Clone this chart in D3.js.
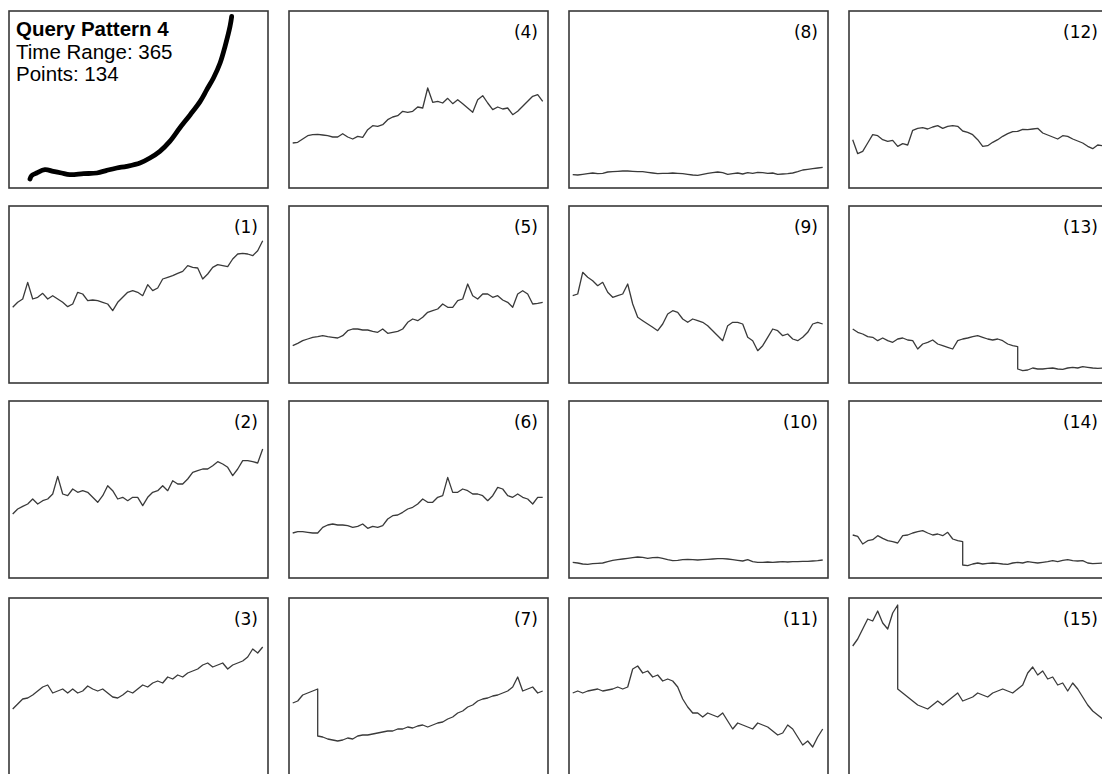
<!DOCTYPE html>
<html><head><meta charset="utf-8">
<script src="https://cdn.jsdelivr.net/npm/d3@7"></script>
<style>html,body{margin:0;padding:0;background:#fff;overflow:hidden}</style>
</head><body><svg id="c" width="1102" height="774"></svg>
<script>
// ---------------- data ----------------
const queryTitle = "Query Pattern 4";
const queryInfo = ["Time Range: 365", "Points: 134"];
const queryDays   = [0, 3, 12, 27, 42, 57, 72, 97, 121, 139, 157, 175, 199, 217, 235, 253, 271, 290, 308, 320, 332, 344, 353, 362, 365];
const queryValues = [27, 37, 45, 55, 50, 45, 40, 43, 45, 53, 60, 65, 75, 90, 110, 140, 180, 220, 260, 295, 330, 375, 425, 485, 515];

const seriesLabels = ["(1)","(2)","(3)","(4)","(5)","(6)","(7)","(8)","(9)","(10)","(11)","(12)","(13)","(14)","(15)"];
// a pair [a, b] marks a vertical jump at that sample
const s1 = [227,242,252,302,252,257,269,252,262,252,242,229,237,272,267,247,249,247,242,237,217,242,257,272,277,272,262,295,277,285,312,317,322,329,335,352,347,345,312,327,347,355,352,349,372,387,389,387,382,397,427];
const s2 = [192,207,215,222,237,222,232,237,252,305,252,247,267,257,262,257,242,227,247,277,262,237,242,232,242,242,217,242,257,262,277,262,292,282,282,297,317,322,327,327,337,349,342,332,307,327,352,352,349,345,387];
const s3 = [198,213,228,231,240,252,264,270,246,252,258,246,258,246,252,267,258,252,258,246,234,231,240,252,246,258,270,264,276,282,276,294,288,300,294,306,312,318,330,336,324,330,336,318,330,336,342,354,378,366,384];
const s4 = [135,137,147,157,160,161,159,157,153,153,163,153,147,155,152,175,187,185,190,205,213,217,230,227,230,243,240,300,257,260,255,269,253,265,253,240,227,265,277,255,235,243,237,240,220,230,245,260,275,280,260];
const s5 = [112,119,127,132,137,139,142,139,137,135,142,157,162,162,159,159,155,152,162,149,152,155,162,182,192,187,197,212,217,222,237,227,227,247,252,297,262,252,267,267,257,262,249,242,227,267,277,267,237,239,242];
const s6 = [135,139,139,137,135,135,152,159,162,159,159,157,152,155,162,149,155,152,157,177,187,189,197,207,212,222,237,227,227,242,247,302,257,257,267,262,252,252,247,232,247,272,267,247,242,252,242,237,222,242,242];
const s7 = [216,222,240,246,252,[258,117],114,108,105,102,105,111,108,117,120,120,123,126,129,132,132,138,138,144,141,147,150,144,150,156,159,168,174,186,192,204,210,222,228,231,237,240,246,252,264,294,252,258,264,246,252];
const s8 = [40,39,41,43,45,43,44,48,49,50,51,51,50,49,49,47,45,43,44,44,45,44,43,41,39,38,41,44,46,48,46,41,43,45,42,46,44,47,46,44,45,41,42,43,45,49,54,56,58,60,62];
const s9 = [262,267,332,317,307,292,302,272,257,262,267,297,237,197,187,177,167,157,177,207,217,212,192,182,192,187,182,172,157,142,127,172,182,182,177,137,127,97,112,137,162,157,142,147,132,127,137,152,177,182,177];
const s10 = [47,45,42,41,43,44,45,49,53,55,57,59,61,63,62,59,61,62,59,55,52,53,55,56,55,54,55,56,57,58,58,57,55,53,51,55,49,47,47,48,47,48,49,48,49,49,50,50,51,52,54];
const s11 = [246,252,246,252,255,258,252,255,258,264,258,264,318,327,306,312,294,300,282,288,282,264,228,204,186,186,174,186,180,174,186,162,138,156,150,144,138,156,150,144,132,120,126,150,138,114,90,102,84,114,138];
const s12 = [145,103,110,135,160,157,145,140,143,125,133,129,173,179,181,177,183,187,179,185,187,185,171,167,160,145,125,127,137,145,155,163,169,170,176,175,177,179,165,159,153,147,157,155,147,141,135,125,118,129,127];
const s13 = [162,152,147,139,137,127,135,127,122,132,135,129,127,102,117,122,129,117,112,107,102,127,132,135,139,142,137,132,129,132,127,117,112,[109,42],37,39,45,42,42,44,45,42,41,45,47,45,49,47,45,44,45];
const s14 = [129,125,102,112,115,127,119,112,109,105,127,129,135,139,142,135,129,132,127,137,117,112,[109,39],37,42,45,42,44,45,44,42,41,45,47,45,49,47,45,47,49,52,49,53,55,52,51,52,45,43,44,45];
const s15 = [387,408,438,468,462,492,456,438,486,[510,258],246,234,222,210,204,198,210,222,210,222,234,246,222,228,234,246,240,234,246,252,258,252,246,258,270,306,324,300,312,288,294,270,276,252,276,258,234,210,192,180,168];
const seriesList = [s1,s2,s3,s4,s5,s6,s7,s8,s9,s10,s11,s12,s13,s14,s15];
const valueMax = 531;

// ---------------- layout ----------------
const svg = d3.select("#c");
const colX = [9, 289, 569, 849], rowY = [11, 206, 401, 598];
const pw = 259, ph = 177;

function expand(arr){
  const out = [];
  arr.forEach((v,i)=>{
    if (Array.isArray(v)) { out.push({i, v:v[0]}); out.push({i, v:v[1]}); }
    else out.push({i, v});
  });
  return out;
}

// panel slots: column-major, first slot is the query
const slots = [];
for (let c=0;c<4;c++) for (let r=0;r<4;r++) slots.push({c, r});

slots.forEach((s, k) => {
  const x0 = colX[s.c], y0 = rowY[s.r];
  const g = svg.append("g");
  g.append("rect").attr("x", x0).attr("y", y0).attr("width", pw).attr("height", ph)
    .attr("fill", "#fff").attr("stroke", "#383838").attr("stroke-width", 1.6);
  const y = d3.scaleLinear().domain([0, valueMax]).range([y0 + ph, y0]);
  if (k === 0) {
    const x = d3.scaleLinear().domain([0, 365]).range([x0 + 21, x0 + 222.7]);
    const pts = queryDays.map((d,i)=>({d, v: queryValues[i]}));
    g.append("path").datum(pts)
      .attr("d", d3.line().x(p=>x(p.d)).y(p=>y(p.v)).curve(d3.curveCatmullRom))
      .attr("fill","none").attr("stroke","#000").attr("stroke-width",4.8)
      .attr("stroke-linecap","round").attr("stroke-linejoin","round");
    g.append("text").attr("x", x0 + 7).attr("y", y0 + 25)
      .attr("font-family","'Liberation Sans', Arial, sans-serif").attr("font-weight","bold")
      .attr("font-size", 20.5).attr("fill","#000").text(queryTitle);
    queryInfo.forEach((t,j)=>{
      g.append("text").attr("x", x0 + 7).attr("y", y0 + 48 + j*22)
        .attr("font-family","'Liberation Sans', Arial, sans-serif")
        .attr("font-size", 20.5).attr("fill","#000").text(t);
    });
  } else {
    const data = seriesList[k-1];
    const x = d3.scaleLinear().domain([0, data.length - 1]).range([x0 + 3.7, x0 + 253.7]);
    g.append("path").datum(expand(data))
      .attr("d", d3.line().x(p=>x(p.i)).y(p=>y(p.v)))
      .attr("fill","none").attr("stroke","#3a3a3a").attr("stroke-width",1.3)
      .attr("stroke-linejoin","round");
    g.append("text").attr("x", x0 + pw - 10).attr("y", y0 + 27)
      .attr("text-anchor","end")
      .attr("font-family","'DejaVu Sans', Verdana, sans-serif")
      .attr("font-size", 17).attr("fill","#000").text(seriesLabels[k-1]);
  }
});
</script></body></html>
